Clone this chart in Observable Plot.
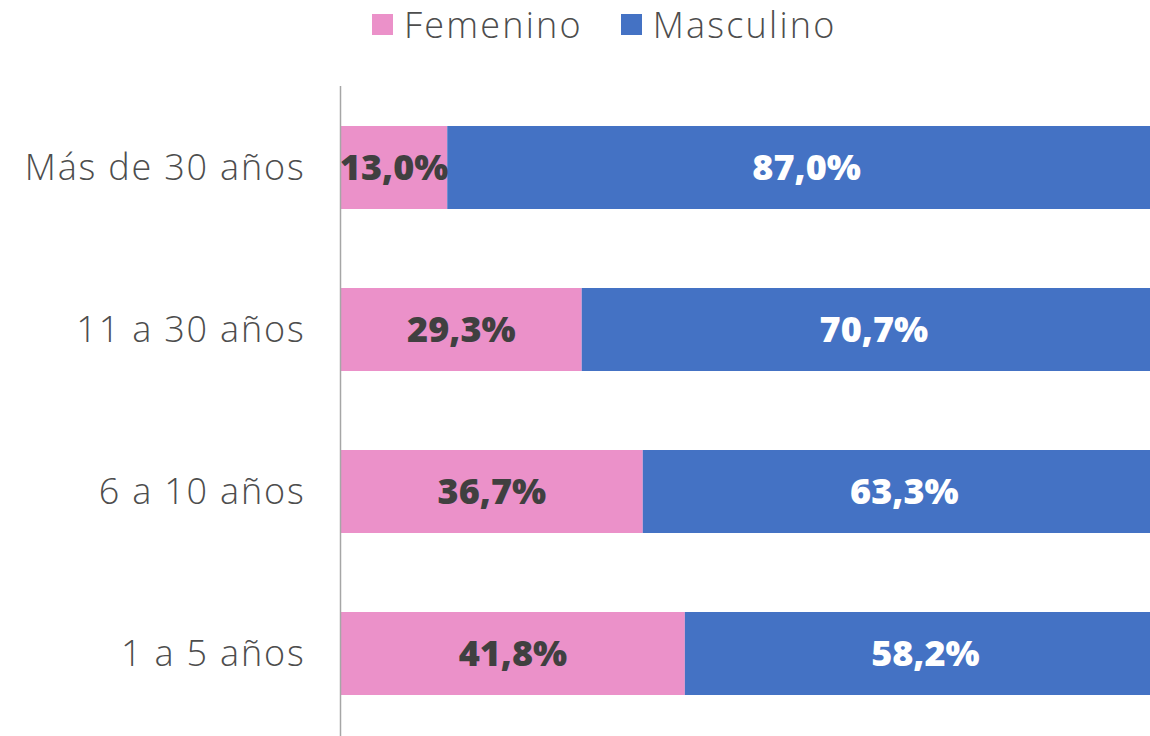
<!DOCTYPE html>
<html>
<head>
<meta charset="utf-8">
<script src="https://cdn.jsdelivr.net/npm/d3@7"></script>
<script src="https://cdn.jsdelivr.net/npm/@observablehq/plot@0.6"></script>
<style>
  body { margin: 0; background: #fff; font-family: "Open Sans", Lato, sans-serif; overflow: hidden; }
  #legend { height: 60px; display: flex; align-items: center; padding-left: 372px; box-sizing: border-box; padding-bottom: 12px; }
  .item { display: flex; align-items: center; margin-right: 38px; font-size: 36px; font-weight: 300; color: #4d4d4d; letter-spacing: 2.2px; }
  .sw { width: 21px; height: 21px; margin-right: 11px; }
  #chart { width: 1150px; overflow: hidden; }
  #chart svg { max-width: none !important; }
  #chart svg g[aria-label="y-axis tick label"] text { letter-spacing: 1.8px; }
</style>
</head>
<body>
<div id="legend"></div>
<div id="chart"></div>
<script>
const categories = ["Más de 30 años", "11 a 30 años", "6 a 10 años", "1 a 5 años"];
const series = ["Femenino", "Masculino"];
const femenino = [13.0, 29.3, 36.7, 41.8];
const masculino = [87.0, 70.7, 63.3, 58.2];
const colors = ["#EB91C9", "#4472C4"];
const labelColors = ["#404040", "#ffffff"];

const legend = document.getElementById("legend");
series.forEach((s, i) => {
  const it = document.createElement("div");
  it.className = "item";
  it.innerHTML = `<span class="sw" style="background:${colors[i]}"></span><span>${s}</span>`;
  legend.appendChild(it);
});

const data = [];
categories.forEach((c, i) => data.push({cat: c, sex: series[0], value: femenino[i]}));
categories.forEach((c, i) => data.push({cat: c, sex: series[1], value: masculino[i]}));

const fmt = v => v.toFixed(1).replace(".", ",") + "%";

const chart = Plot.plot({
  width: 1165,
  height: 676,
  marginLeft: 340,
  marginRight: 0,
  marginTop: 26,
  marginBottom: 0,
  x: {domain: [0, 100], axis: null},
  y: {domain: categories, paddingInner: 0.487, paddingOuter: 0.24, label: null, tickSize: 0, tickPadding: 35},
  color: {domain: series, range: colors},
  style: {fontFamily: "'Open Sans', Lato, sans-serif", maxWidth: "none"},
  marks: [
    Plot.barX(data, Plot.stackX({x: "value", y: "cat", fill: "sex", order: series})),
    Plot.textX(data, Plot.stackX({
      x: "value", y: "cat", z: "sex", order: series,
      text: d => fmt(d.value),
      fill: d => labelColors[series.indexOf(d.sex)],
      fontSize: 36, fontWeight: 800, fontFamily: "'Open Sans', sans-serif"
    })),
    Plot.axisY({tickSize: 0, tickPadding: 35, fontSize: 36, fontWeight: 300, color: "#4d4d4d"}),
    Plot.ruleX([0], {stroke: "#a6a6a6", strokeWidth: 1.5})
  ]
});
document.getElementById("chart").appendChild(chart);
</script>
</body>
</html>
